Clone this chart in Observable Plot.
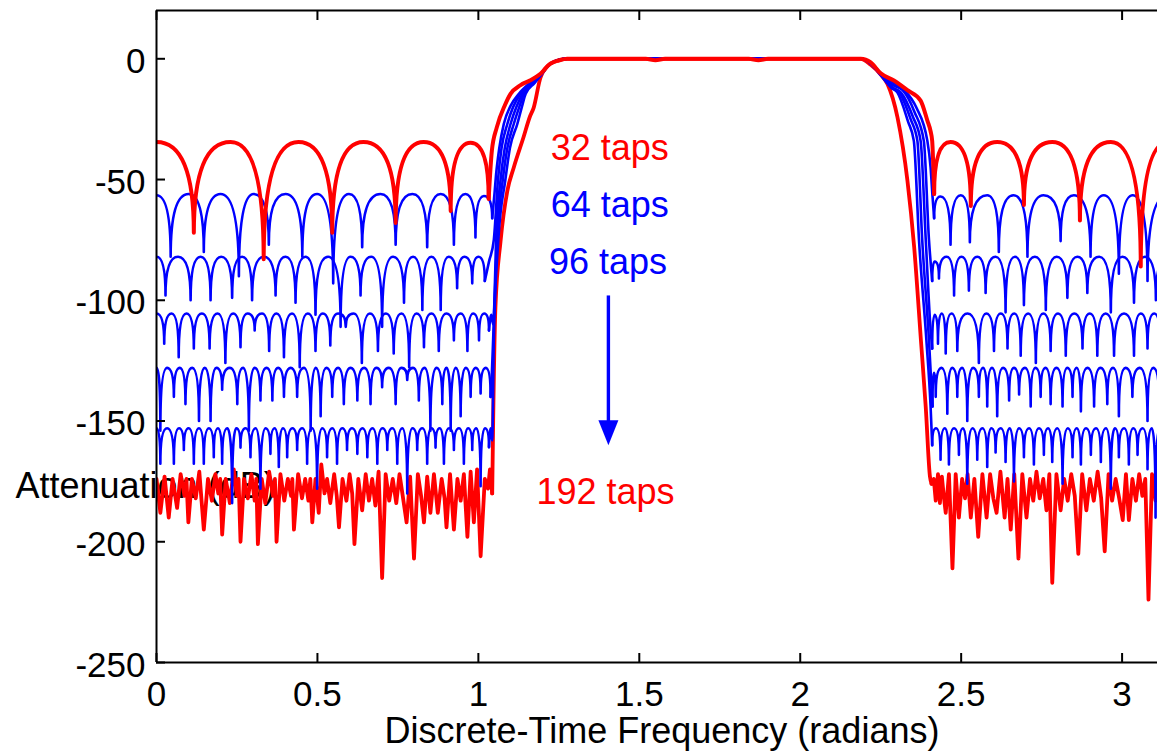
<!DOCTYPE html>
<html>
<head>
<meta charset="utf-8">
<script src="https://cdn.jsdelivr.net/npm/d3@7"></script>
<script src="https://cdn.jsdelivr.net/npm/@observablehq/plot@0.6"></script>
<style>
  html, body { margin: 0; padding: 0; background: #ffffff; }
  #chart { width: 1157px; height: 754px; overflow: hidden; }
</style>
</head>
<body>
<div id="chart"></div>
<script>
// ---------- axis ticks ----------
const xTicks = [0, 0.5, 1, 1.5, 2, 2.5, 3];
const yTicks = [-250, -200, -150, -100, -50, 0];

// ---------- 32 taps (red, top) ----------
const tap32Left = [[0,-34.5],[0.116,-72],[0.230,-34.5],[0.333,-83],[0.441,-34.5],[0.546,-72],[0.643,-34.5],[0.743,-68],[0.830,-34.5],[0.914,-63],[0.976,-34.8],[1.032,-58]];
const tap32Edge = [[1.032,-58],[1.042,-38],[1.057,-28.5],[1.083,-19],[1.100,-14.5],[1.130,-11],[1.160,-9],[1.193,-6.2],[1.224,-2],[1.250,-0.7],[1.276,0],[1.52,0],[1.55,-0.6],[1.58,0],[1.84,0],[1.87,-0.6],[1.90,0],[2.188,0],[2.219,-1.5],[2.250,-6],[2.291,-9],[2.333,-13],[2.374,-17.3],[2.395,-25.6],[2.405,-30],[2.410,-34],[2.416,-56]];
const tap32Right = [[2.416,-56],[2.467,-34.5],[2.530,-61],[2.612,-34.5],[2.695,-60.5],[2.783,-34.5],[2.869,-67],[2.965,-34.5],[3.058,-86],[3.1416,-34.5]];

// ---------- 64 taps (blue) ----------
const tap64Left = [[0,-56.5],[0.044,-82],[0.100,-56],[0.147,-80],[0.199,-56],[0.256,-90],[0.302,-56],[0.349,-77],[0.401,-56],[0.453,-82],[0.499,-56],[0.549,-93],[0.598,-56],[0.639,-78],[0.696,-56],[0.743,-77],[0.795,-56],[0.841,-78],[0.883,-56],[0.924,-77],[0.960,-56],[0.991,-74],[1.017,-56.8],[1.043,-66]];
const tap64Edge = [[1.043,-66],[1.050,-56],[1.055,-48],[1.065,-37],[1.079,-27],[1.100,-19.5],[1.126,-14.5],[1.160,-10],[1.194,-6.2],[1.224,-2],[1.250,-0.6],[1.276,0],[2.188,0],[2.219,-1.6],[2.250,-6],[2.290,-10],[2.323,-13],[2.360,-20],[2.395,-34],[2.405,-45],[2.411,-57],[2.416,-66]];
const tap64Right = [[2.416,-66],[2.436,-57],[2.467,-77],[2.499,-56.5],[2.527,-76],[2.581,-56.5],[2.617,-80],[2.663,-56.5],[2.706,-82],[2.756,-56.5],[2.809,-75.5],[2.850,-56.5],[2.902,-82],[2.943,-56.5],[2.990,-89],[3.033,-56.5],[3.079,-92],[3.1416,-56.5]];

// ---------- 96 taps (blue) ----------
const tap96Left = [[0,-82],[0.028,-98],[0.067,-82],[0.106,-100],[0.137,-82],[0.168,-100],[0.201,-82],[0.235,-99],[0.266,-82],[0.297,-100],[0.333,-82],[0.370,-98],[0.401,-82],[0.432,-101],[0.463,-82],[0.494,-106],[0.533,-82],[0.572,-111],[0.603,-82],[0.634,-98],[0.667,-82],[0.701,-111],[0.735,-82],[0.769,-101],[0.797,-82],[0.826,-104],[0.854,-82],[0.883,-104],[0.908,-82],[0.934,-95],[0.957,-82],[0.981,-93],[1.000,-82],[1.020,-92]];
const tap96Edge = [[1.020,-92],[1.033,-84],[1.048,-75],[1.061,-50],[1.072,-37],[1.090,-27],[1.108,-20],[1.131,-14.5],[1.165,-10],[1.195,-6.2],[1.224,-2],[1.276,0],[2.188,0],[2.219,-1.7],[2.250,-6.2],[2.290,-11],[2.318,-13],[2.355,-22],[2.384,-34],[2.400,-75],[2.410,-92]];
const tap96Right = [[2.410,-92],[2.418,-84],[2.431,-91],[2.455,-82],[2.478,-98],[2.501,-82],[2.524,-96],[2.550,-82],[2.576,-97],[2.607,-82],[2.638,-105],[2.667,-82],[2.695,-102],[2.729,-82],[2.763,-104],[2.797,-82],[2.830,-99],[2.861,-82],[2.892,-97],[2.929,-82],[2.965,-105],[3.001,-82],[3.037,-101],[3.071,-82],[3.105,-100],[3.1416,-82]];

// ---------- 128 taps (blue) ----------
const tap128Left = [[0,-105.5],[0.024,-118],[0.047,-105.5],[0.069,-123.6],[0.093,-105.5],[0.116,-120],[0.141,-105.5],[0.165,-120],[0.190,-105.5],[0.214,-126],[0.238,-105.5],[0.261,-119.4],[0.283,-105.5],[0.305,-112.5],[0.328,-105.5],[0.350,-121],[0.373,-105.5],[0.396,-123.6],[0.421,-105.5],[0.445,-127.7],[0.470,-105.5],[0.494,-121],[0.517,-105.5],[0.540,-118.7],[0.564,-105.5],[0.588,-111],[0.613,-105.5],[0.638,-126],[0.663,-105.5],[0.688,-121],[0.713,-105.5],[0.737,-122],[0.761,-105.5],[0.785,-127.7],[0.808,-105.5],[0.831,-119.4],[0.854,-105.5],[0.877,-121],[0.901,-105.5],[0.924,-116.6],[0.945,-105.5],[0.966,-121],[0.984,-105.5],[1.002,-116.6],[1.018,-105.5],[1.033,-112.5]];
const tap128Edge = [[1.033,-112.5],[1.040,-106],[1.046,-110],[1.050,-100],[1.055,-75],[1.069,-50],[1.082,-37],[1.100,-27],[1.118,-20],[1.137,-14.5],[1.168,-10],[1.196,-6.2],[1.224,-2],[1.276,0],[2.188,0],[2.219,-1.8],[2.250,-6.4],[2.288,-12],[2.313,-14],[2.350,-24],[2.374,-34],[2.390,-75],[2.404,-110],[2.410,-120]];
const tap128Right = [[2.410,-120],[2.418,-106],[2.428,-118],[2.440,-105.5],[2.452,-122],[2.470,-105.5],[2.488,-121],[2.520,-105.5],[2.555,-126],[2.578,-105.5],[2.602,-121],[2.623,-105.5],[2.644,-120],[2.665,-105.5],[2.685,-123],[2.708,-105.5],[2.732,-126],[2.755,-105.5],[2.778,-121],[2.801,-105.5],[2.825,-123],[2.851,-105.5],[2.877,-120],[2.900,-105.5],[2.923,-123],[2.949,-105.5],[2.975,-123],[3.006,-105.5],[3.037,-123],[3.058,-105.5],[3.079,-120],[3.100,-105.5],[3.120,-122],[3.1416,-105.5]];

// ---------- 160 taps (blue) ----------
const tap160Left = [[0,-128],[0.012,-154],[0.033,-128],[0.054,-140],[0.072,-128],[0.090,-143],[0.111,-128],[0.132,-150],[0.150,-128],[0.168,-150],[0.186,-128],[0.204,-137],[0.228,-128],[0.251,-143],[0.269,-128],[0.287,-154],[0.305,-128],[0.323,-141.5],[0.342,-128],[0.360,-141.5],[0.378,-128],[0.396,-140],[0.417,-128],[0.437,-140],[0.458,-128],[0.479,-154],[0.495,-128],[0.510,-148],[0.528,-128],[0.546,-140],[0.564,-128],[0.582,-143],[0.603,-128],[0.624,-141.5],[0.645,-128],[0.665,-143],[0.683,-128],[0.701,-136],[0.722,-128],[0.743,-143],[0.761,-128],[0.779,-133],[0.797,-128],[0.815,-141.5],[0.833,-128],[0.851,-154],[0.870,-128],[0.888,-143],[0.901,-128],[0.914,-154],[0.930,-128],[0.945,-148],[0.961,-128],[0.976,-140],[0.992,-128],[1.007,-138.6],[1.023,-128],[1.038,-140]];
const tap160Edge = [[1.038,-140],[1.042,-130],[1.046,-116],[1.058,-75],[1.076,-50],[1.090,-37],[1.110,-27],[1.127,-20],[1.142,-14.5],[1.172,-10],[1.197,-6.2],[1.224,-2],[1.276,0],[2.188,0],[2.219,-1.9],[2.250,-6.6],[2.285,-12],[2.308,-14],[2.343,-25],[2.364,-34],[2.379,-75],[2.400,-116.6],[2.411,-144]];
const tap160Right = [[2.411,-144],[2.416,-130],[2.421,-140],[2.439,-128],[2.457,-147],[2.472,-128],[2.488,-140],[2.503,-128],[2.519,-150],[2.537,-128],[2.555,-140],[2.568,-128],[2.581,-144],[2.596,-128],[2.612,-148],[2.630,-128],[2.649,-141.5],[2.664,-128],[2.680,-139],[2.698,-128],[2.716,-144],[2.731,-128],[2.747,-140],[2.762,-128],[2.778,-143],[2.796,-128],[2.815,-144],[2.830,-128],[2.846,-140],[2.859,-128],[2.872,-146],[2.892,-128],[2.913,-144],[2.933,-128],[2.954,-143],[2.972,-128],[2.990,-148],[3.011,-128],[3.032,-140],[3.055,-128],[3.079,-150],[3.097,-128],[3.115,-143],[3.1416,-128]];

// ---------- 192 taps (blue, -153 row) ----------
const tap192bLeft = [[0,-153],[0.012,-167.7],[0.033,-153],[0.054,-167.7],[0.070,-153],[0.085,-162],[0.100,-153],[0.116,-167.7],[0.132,-153],[0.147,-167.7],[0.163,-153],[0.178,-165],[0.191,-153],[0.204,-167.7],[0.220,-153],[0.235,-184],[0.248,-153],[0.261,-161],[0.277,-153],[0.292,-165],[0.308,-153],[0.323,-178],[0.339,-153],[0.354,-163.6],[0.367,-153],[0.380,-169],[0.393,-153],[0.406,-165],[0.422,-153],[0.437,-162],[0.453,-153],[0.468,-167.7],[0.484,-153],[0.499,-178],[0.515,-153],[0.530,-165],[0.546,-153],[0.561,-167.7],[0.577,-153],[0.592,-162],[0.608,-153],[0.624,-163.6],[0.640,-153],[0.655,-165],[0.671,-153],[0.686,-167.7],[0.702,-153],[0.717,-162],[0.733,-153],[0.748,-167.7],[0.764,-153],[0.779,-180],[0.795,-153],[0.810,-162],[0.826,-153],[0.841,-167.7],[0.854,-153],[0.867,-161],[0.880,-153],[0.893,-167.7],[0.909,-153],[0.924,-162],[0.940,-153],[0.955,-167.7],[0.968,-153],[0.981,-162],[0.994,-153],[1.007,-177],[1.020,-153],[1.033,-160.8]];
const tap192bEdge = [[1.033,-160.8],[1.038,-153],[1.043,-158],[1.048,-116],[1.062,-75],[1.084,-50],[1.098,-37],[1.121,-27],[1.135,-20],[1.147,-14.5],[1.175,-10],[1.198,-6.2],[1.224,-2],[1.276,0],[2.188,0],[2.219,-2],[2.250,-6.8],[2.283,-12],[2.302,-14],[2.335,-26],[2.353,-34],[2.369,-75],[2.392,-116.6],[2.405,-144],[2.410,-160]];
const tap192bRight = [[2.410,-160],[2.422,-153],[2.436,-166],[2.449,-153],[2.462,-168],[2.478,-153],[2.493,-164],[2.506,-153],[2.519,-176],[2.535,-153],[2.550,-166],[2.566,-153],[2.581,-169],[2.594,-153],[2.607,-163],[2.623,-153],[2.638,-167],[2.651,-153],[2.664,-175],[2.680,-153],[2.695,-165],[2.711,-153],[2.726,-168],[2.742,-153],[2.757,-164],[2.770,-153],[2.783,-167],[2.799,-153],[2.815,-176],[2.831,-153],[2.846,-165],[2.859,-153],[2.872,-168],[2.888,-153],[2.903,-164],[2.919,-153],[2.934,-167],[2.950,-153],[2.965,-178],[2.978,-153],[2.990,-165],[3.006,-153],[3.021,-168],[3.035,-153],[3.048,-164],[3.064,-153],[3.079,-170],[3.092,-153],[3.104,-190],[3.117,-153],[3.130,-167],[3.1416,-153]];

// ---------- 192 taps (red, bottom) ----------
const tap192Left = [[0,-174],[0.012,-188],[0.025,-173],[0.038,-190],[0.050,-174],[0.064,-186],[0.075,-172],[0.087,-181],[0.093,-174],[0.099,-192],[0.110,-174],[0.122,-182],[0.133,-171],[0.147,-195],[0.160,-174],[0.172,-183],[0.183,-172],[0.192,-180],[0.198,-174],[0.204,-197],[0.215,-174],[0.228,-184],[0.240,-170],[0.250,-181],[0.255,-174],[0.261,-200],[0.272,-174],[0.284,-182],[0.295,-172],[0.305,-183],[0.310,-174],[0.315,-201],[0.327,-174],[0.338,-184],[0.350,-171],[0.362,-181],[0.368,-174],[0.373,-200],[0.385,-172],[0.397,-183],[0.408,-174],[0.418,-181],[0.422,-174],[0.427,-195],[0.440,-172],[0.452,-182],[0.462,-174],[0.472,-183],[0.478,-174],[0.484,-192],[0.494,-174],[0.504,-188],[0.512,-168],[0.522,-180],[0.530,-174],[0.540,-184],[0.552,-172],[0.560,-181],[0.567,-194],[0.578,-174],[0.590,-183],[0.600,-172],[0.608,-180],[0.615,-201],[0.627,-174],[0.639,-187],[0.650,-172],[0.660,-183],[0.670,-174],[0.680,-185],[0.690,-171],[0.701,-215],[0.712,-172],[0.723,-183],[0.734,-174],[0.745,-184],[0.755,-172],[0.765,-181],[0.777,-192],[0.788,-173],[0.800,-207],[0.812,-172],[0.822,-181],[0.831,-192],[0.841,-173],[0.851,-188],[0.862,-172],[0.874,-188],[0.886,-174],[0.895,-182],[0.901,-194],[0.912,-172],[0.924,-195],[0.935,-174],[0.945,-183],[0.955,-172],[0.966,-198],[0.976,-171],[0.986,-192],[0.996,-170],[1.007,-206],[1.020,-174],[1.030,-178],[1.036,-170],[1.043,-180]];
const tap192Edge = [[1.043,-180],[1.046,-150],[1.053,-103],[1.069,-75.5],[1.090,-54.7],[1.110,-45],[1.140,-32.6],[1.160,-24],[1.172,-20.2],[1.193,-7.8],[1.224,-2],[1.276,0],[2.188,0],[2.219,-2.5],[2.250,-6.5],[2.271,-10.4],[2.302,-24.2],[2.333,-50.4],[2.354,-78],[2.375,-116.6],[2.390,-144.3],[2.403,-173],[2.408,-176]];
const tap192Right = [[2.408,-176],[2.415,-174],[2.421,-183],[2.428,-172],[2.434,-184],[2.440,-173],[2.446,-181],[2.452,-188],[2.462,-172],[2.473,-211],[2.483,-172],[2.493,-190],[2.503,-174],[2.512,-182],[2.520,-172],[2.530,-190],[2.541,-174],[2.553,-198],[2.566,-172],[2.579,-190],[2.590,-172],[2.600,-182],[2.610,-188],[2.622,-171],[2.635,-190],[2.644,-174],[2.654,-195],[2.665,-172],[2.678,-207],[2.690,-172],[2.703,-190],[2.714,-174],[2.724,-183],[2.734,-171],[2.744,-182],[2.755,-174],[2.765,-187],[2.774,-172],[2.783,-217],[2.796,-172],[2.809,-187],[2.820,-174],[2.831,-183],[2.842,-172],[2.853,-181],[2.864,-205],[2.876,-172],[2.889,-187],[2.900,-174],[2.912,-183],[2.924,-171],[2.935,-182],[2.946,-204],[2.958,-172],[2.969,-183],[2.980,-174],[2.991,-182],[3.002,-191],[3.012,-172],[3.021,-191],[3.032,-174],[3.043,-183],[3.053,-172],[3.063,-181],[3.072,-174],[3.082,-224],[3.093,-172],[3.104,-183],[3.115,-174],[3.126,-182],[3.1416,-174]];

// ---------- annotations ----------
const tapLabels = ["32 taps", "64 taps", "96 taps", "192 taps"];
const tapLabelX = [1.408, 1.408, 1.403, 1.395];
const tapLabelY = [-37.3, -60.8, -84.3, -179.5];
const tapLabelColor = ["#ff0000", "#0000ff", "#0000ff", "#ff0000"];
const arrowX = [1.404];
const arrowFrom = [-98];
const arrowTo = [-150];
const arrowTip = [-160];

// ---------- rendering ----------
const RED = "#ff0000", BLUE = "#0000ff";

// curve: vertical tangent at the lower point, horizontal tangent at the higher point
function lobeCurve(context) {
  let x0, y0, n = 0;
  return {
    areaStart() {}, areaEnd() {},
    lineStart() { n = 0; },
    lineEnd() {},
    point(x, y) {
      x = +x; y = +y;
      if (n === 0) context.moveTo(x, y);
      else if (y > y0) context.quadraticCurveTo(x, y0, x, y);
      else context.quadraticCurveTo(x0, y, x, y);
      x0 = x; y0 = y; n++;
    }
  };
}

const series = [
  {color: RED,  width: 3.8, left: tap192Left,  edge: tap192Edge,  right: tap192Right,  zig: true},
  {color: BLUE, width: 2.6, left: tap192bLeft, edge: tap192bEdge, right: tap192bRight},
  {color: BLUE, width: 2.6, left: tap160Left,  edge: tap160Edge,  right: tap160Right},
  {color: BLUE, width: 2.6, left: tap128Left,  edge: tap128Edge,  right: tap128Right},
  {color: BLUE, width: 2.6, left: tap96Left,   edge: tap96Edge,   right: tap96Right},
  {color: BLUE, width: 2.6, left: tap64Left,   edge: tap64Edge,   right: tap64Right},
  {color: RED,  width: 4.0, left: tap32Left,   edge: tap32Edge,   right: tap32Right}
];

const toRows = arr => arr.map(([x, y]) => ({x, y}));
const marks = [];

marks.push(Plot.text(["Attenuation (dB)"], {
  text: d => d, frameAnchor: "left", textAnchor: "start", lineAnchor: "middle", dx: -141, dy: 150, fontSize: 36, fill: "black"
}));

for (const s of series) {
  const common = {x: "x", y: "y", stroke: s.color, strokeWidth: s.width, strokeLinejoin: "round", strokeLinecap: "round", clip: true};
  marks.push(Plot.line(toRows(s.left), {...common, curve: s.zig ? "linear" : lobeCurve}));
  marks.push(Plot.line(toRows(s.edge), {...common, curve: "monotone-x"}));
  marks.push(Plot.line(toRows(s.right), {...common, curve: s.zig ? "linear" : lobeCurve}));
}

const labelRows = tapLabels.map((t, i) => ({t, x: tapLabelX[i], y: tapLabelY[i], c: tapLabelColor[i]}));
marks.push(Plot.text(labelRows, {x: "x", y: "y", text: "t", fill: "c", fontSize: 36, textAnchor: "middle"}));

const arrowRows = arrowX.map((x, i) => ({x, from: arrowFrom[i], to: arrowTo[i], tip: arrowTip[i]}));
marks.push(Plot.link(arrowRows, {x1: "x", x2: "x", y1: "from", y2: "to", stroke: BLUE, strokeWidth: 3.4}));
const triangleDown = {
  draw(context) {
    context.moveTo(-10, -25);
    context.lineTo(10, -25);
    context.lineTo(0, 0);
    context.closePath();
  }
};
marks.push(Plot.dot(arrowRows, {x: "x", y: "tip", symbol: triangleDown, fill: BLUE, stroke: "none", r: 10}));

// frame lines (left, top, bottom)
marks.push(Plot.ruleX([0], {stroke: "black", strokeWidth: 2}));
marks.push(Plot.ruleY([20], {stroke: "black", strokeWidth: 2}));
marks.push(Plot.ruleY([-250], {stroke: "black", strokeWidth: 2}));

// inward ticks
marks.push(Plot.axisY({ticks: yTicks, tickSize: -9, tickFormat: () => "", label: null, strokeWidth: 2}));
marks.push(Plot.axisX({ticks: xTicks, tickSize: -9, tickFormat: () => "", label: null, strokeWidth: 2}));
marks.push(Plot.axisX({anchor: "top", ticks: xTicks, tickSize: -9, tickFormat: () => "", label: null, strokeWidth: 2}));
// tick labels
marks.push(Plot.axisY({ticks: yTicks, tickSize: 0, tickPadding: 11, tickFormat: d => String(d), label: null, fontSize: 35, dy: 3}));
marks.push(Plot.axisX({ticks: xTicks, tickSize: 0, tickPadding: 19, tickFormat: d => String(d), label: null, fontSize: 35}));

marks.push(Plot.text(["Discrete-Time Frequency (radians)"], {
  text: d => d, frameAnchor: "bottom", lineAnchor: "middle", dy: 69, dx: 5, fontSize: 36, fill: "black"
}));

const chart = Plot.plot({
  width: 1157,
  height: 754,
  marginLeft: 156,
  marginRight: 0,
  marginTop: 10,
  marginBottom: 92,
  x: {domain: [0, 3.11]},
  y: {domain: [-250, 20]},
  color: {type: "identity"},
  style: {fontFamily: "'Liberation Sans', Arial, sans-serif", fontSize: "35px", color: "black", background: "white"},
  marks
});
document.getElementById("chart").appendChild(chart);
</script>
</body>
</html>
